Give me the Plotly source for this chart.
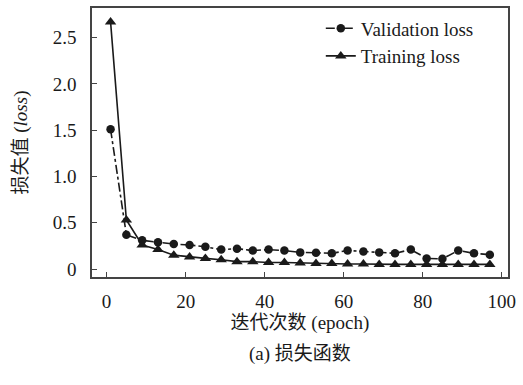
import plotly.graph_objects as go

epochs = [1, 5, 9, 13, 17, 21, 25, 29, 33, 37, 41, 45, 49, 53, 57, 61, 65, 69, 73, 77, 81, 85, 89, 93, 97]
validation_loss = [1.51, 0.37, 0.31, 0.29, 0.27, 0.26, 0.24, 0.21, 0.22, 0.20, 0.21, 0.20, 0.18, 0.175,
                   0.17, 0.20, 0.19, 0.18, 0.17, 0.21, 0.115, 0.11, 0.20, 0.17, 0.155]
training_loss = [2.67, 0.53, 0.26, 0.21, 0.15, 0.13, 0.115, 0.10, 0.08, 0.08, 0.07, 0.07, 0.065, 0.06,
                 0.06, 0.055, 0.055, 0.05, 0.05, 0.05, 0.05, 0.05, 0.05, 0.05, 0.05]
x_ticks = [0, 20, 40, 60, 80, 100]
y_ticks = [0, 0.5, 1.0, 1.5, 2.0, 2.5]
y_tick_labels = ["0", "0.5", "1.0", "1.5", "2.0", "2.5"]

FONT = "Liberation Serif, 'Noto Sans CJK SC', serif"
INK = "#1a1a1a"

fig = go.Figure()
fig.add_trace(go.Scatter(
    x=epochs, y=validation_loss, name="Validation loss", mode="lines+markers",
    line=dict(color=INK, width=1.6, dash="dashdot"),
    marker=dict(symbol="circle", size=8.5, color=INK),
))
fig.add_trace(go.Scatter(
    x=epochs, y=training_loss, name="Training loss", mode="lines+markers",
    line=dict(color=INK, width=1.6),
    marker=dict(symbol="triangle-up", size=10, color=INK),
))

axis_common = dict(
    showgrid=False, zeroline=False, showline=True, linecolor="#444", linewidth=1.5,
    mirror=True, ticks="inside", ticklen=5, tickwidth=1, tickcolor="#444",
    tickfont=dict(family=FONT, size=19, color=INK),
)
fig.update_xaxes(range=[-3.7, 101.6], tickvals=x_ticks, ticklabelstandoff=6,
                 title=dict(text="迭代次数 (epoch)", font=dict(family=FONT, size=19, color=INK), standoff=4),
                 **axis_common)
fig.update_yaxes(range=[-0.086, 2.82], tickvals=y_ticks, ticktext=y_tick_labels, ticklabelstandoff=10,
                 title=dict(text="损失值 (<i>loss</i>)", font=dict(family=FONT, size=19, color=INK), standoff=20),
                 **axis_common)

fig.add_annotation(text="(a) 损失函数", xref="paper", yref="paper", x=0.5, y=-0.288,
                   xanchor="center", yanchor="middle", showarrow=False,
                   font=dict(family=FONT, size=19, color=INK))

fig.update_layout(
    width=523, height=385,
    margin=dict(l=92, r=15, t=6, b=108),
    paper_bgcolor="white", plot_bgcolor="white",
    showlegend=True,
    legend=dict(x=0.55, y=0.995, xanchor="left", yanchor="top", bgcolor="rgba(0,0,0,0)",
                font=dict(family=FONT, size=19, color=INK), itemwidth=30, tracegroupgap=0),
)

fig.write_html("out.html")
